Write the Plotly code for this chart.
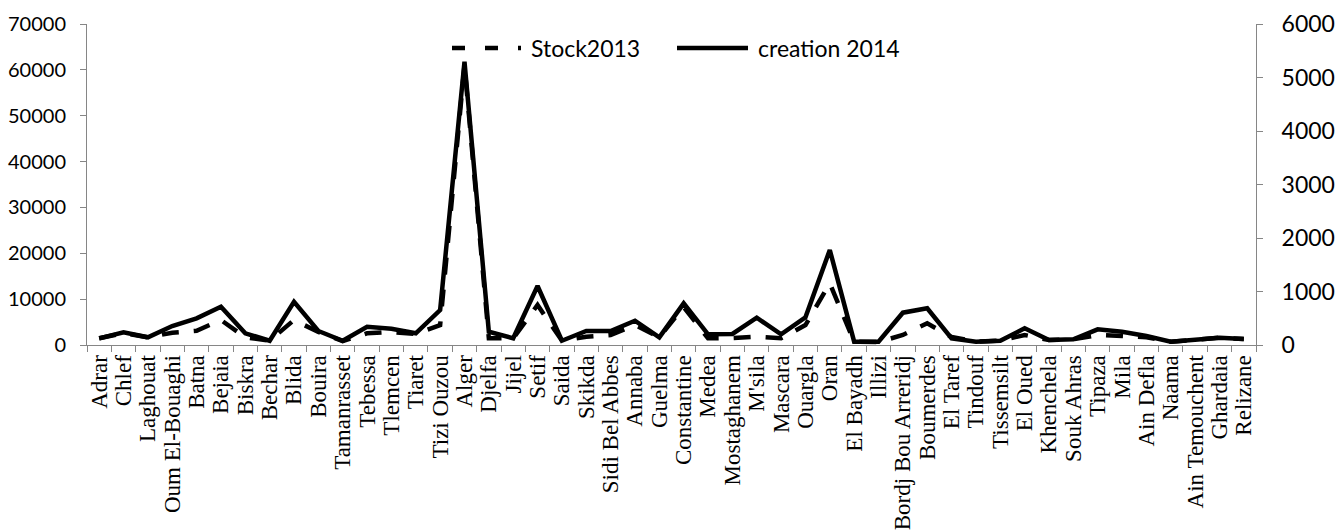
import plotly.graph_objects as go

wilayas = ["Adrar", "Chlef", "Laghouat", "Oum El-Bouaghi", "Batna", "Bejaia", "Biskra", "Bechar",
           "Blida", "Bouira", "Tamanrasset", "Tebessa", "Tlemcen", "Tiaret", "Tizi Ouzou", "Alger",
           "Djelfa", "Jijel", "Setif", "Saida", "Skikda", "Sidi Bel Abbes", "Annaba", "Guelma",
           "Constantine", "Medea", "Mostaghanem", "M'sila", "Mascara", "Ouargla", "Oran", "El Bayadh",
           "Illizi", "Bordj Bou Arreridj", "Boumerdes", "El Taref", "Tindouf", "Tissemsilt", "El Oued",
           "Khenchela", "Souk Ahras", "Tipaza", "Mila", "Ain Defla", "Naama", "Ain Temouchent",
           "Ghardaia", "Relizane"]

stock_2013 = [1460, 2620, 1680, 2680, 3120, 5450, 1680, 940,
              5450, 2840, 870, 2550, 2840, 2400, 4360, 61000,
              1460, 1460, 8720, 940, 1810, 2180, 4360, 1680,
              8290, 1460, 1530, 1810, 1460, 4360, 13460, 720,
              650, 2180, 4730, 1740, 720, 940, 2180,
              1090, 1240, 2180, 1960, 1680, 720, 1240,
              1590, 1310]

creation_2014 = [125, 237, 144, 355, 499, 716, 219, 80,
                 809, 262, 80, 342, 305, 219, 654, 5295,
                 249, 125, 1103, 80, 262, 262, 454, 144,
                 779, 200, 206, 510, 200, 518, 1776, 62,
                 62, 604, 686, 125, 62, 80, 312,
                 93, 107, 293, 249, 168, 62, 107,
                 136, 112]

left_ticks = [0, 10000, 20000, 30000, 40000, 50000, 60000, 70000]
right_ticks = [0, 1000, 2000, 3000, 4000, 5000, 6000]

W, H = 1337, 531
L, R, T, B = 87, 81, 24, 186
pw, ph = W - L - R, H - T - B


def px(x):
    return (x - L) / pw


def py(y):
    return (H - B - y) / ph


AX = "#868686"

fig = go.Figure()
fig.add_trace(go.Scatter(x=wilayas, y=stock_2013, mode="lines", name="Stock2013",
                         line=dict(color="black", width=4.5, dash="17px,15px"), yaxis="y"))
fig.add_trace(go.Scatter(x=wilayas, y=creation_2014, mode="lines", name="creation 2014",
                         line=dict(color="black", width=4.5), yaxis="y2"))

fig.update_layout(
    width=W, height=H,
    margin=dict(l=L, r=R, t=T, b=B, pad=0),
    paper_bgcolor="white", plot_bgcolor="white",
    showlegend=False,
    xaxis=dict(type="category", range=[-0.5, len(wilayas) - 0.5], showgrid=False,
               tickmode="array", tickvals=wilayas, ticktext=wilayas,
               showline=True, linecolor=AX, linewidth=1, ticks="outside", tickson="boundaries",
               ticklen=6, tickcolor=AX, tickangle=-90, automargin=False,
               tickfont=dict(family="Liberation Serif", size=23, color="black")),
    yaxis=dict(range=[0, 70000], tickvals=left_ticks, ticktext=[str(v) for v in left_ticks],
               showgrid=False, zeroline=False, showline=True, linecolor=AX, linewidth=1,
               ticks="outside", ticklen=6, tickcolor=AX, automargin=False,
               ticklabelstandoff=10,
               tickfont=dict(family="Lato", size=20, color="black")),
    yaxis2=dict(range=[0, 6000], tickvals=right_ticks, ticktext=[str(v) for v in right_ticks],
                overlaying="y", side="right", showgrid=False, zeroline=False, showline=True,
                linecolor=AX, linewidth=1, ticks="outside", ticklen=6, tickcolor=AX,
                automargin=False, ticklabelstandoff=14,
                tickfont=dict(family="Lato", size=23, color="black")),
)

# legend drawn as samples + text at the top
ly = py(48)
fig.add_shape(type="line", xref="paper", yref="paper", x0=px(452), x1=px(521), y0=ly, y1=ly,
              line=dict(color="black", width=4.5, dash="13px,20px"))
fig.add_shape(type="line", xref="paper", yref="paper", x0=px(677), x1=px(748), y0=ly, y1=ly,
              line=dict(color="black", width=4.5))
fig.add_annotation(xref="paper", yref="paper", x=px(529), y=ly, text="Stock2013", showarrow=False,
                   xanchor="left", yanchor="middle", font=dict(family="Lato", size=23, color="black"))
fig.add_annotation(xref="paper", yref="paper", x=px(756), y=ly, text="creation 2014", showarrow=False,
                   xanchor="left", yanchor="middle", font=dict(family="Lato", size=23, color="black"))

fig.write_html("out.html")
